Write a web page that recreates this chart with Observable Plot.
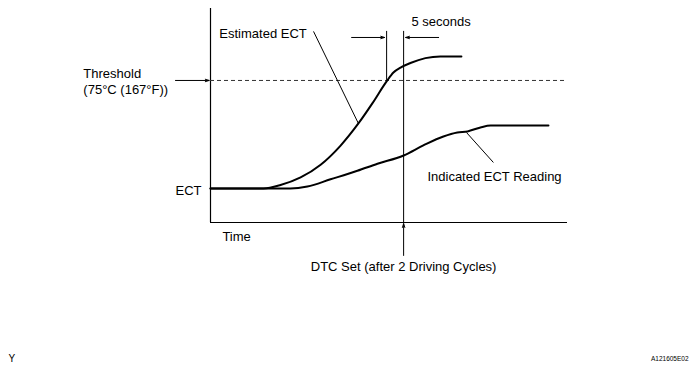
<!DOCTYPE html>
<html>
<head>
<meta charset="utf-8">
<script src="https://cdn.jsdelivr.net/npm/d3@7"></script>
<script src="https://cdn.jsdelivr.net/npm/@observablehq/plot@0.6"></script>
<style>
  html, body { margin: 0; padding: 0; background: #fff; }
  svg { display: block; }
</style>
</head>
<body>
<div id="chart"></div>
<script>
// Time (s) and ECT (°C) for the two curves
const estimatedTime = [0, 15.6, 20.6, 26.5, 32.4, 38.2, 43.5, 47.6, 51.8, 53.8, 55.9, 58.8, 63.2, 67.6, 73.8];
const estimatedECT  = [18, 18, 19.8, 23.8, 30.5, 40.5, 52.3, 62.9, 74.5, 79.2, 81.8, 84.2, 86.8, 87.7, 87.7];
const indicatedTime = [0, 23.5, 28.5, 35.3, 43.2, 49.1, 56.8, 62.6, 68.5, 72.6, 75.6, 79.4, 82.4, 99.4];
const indicatedECT  = [18, 18, 19.0, 22.8, 27.3, 31.0, 35.4, 40.7, 45.4, 47.5, 48.1, 50.2, 51.2, 51.2];

const threshold = 75;        // °C
const thresholdTime = 51.8;  // estimated ECT crosses threshold
const dtcTime = 56.8;        // DTC set, 5 s later
const timeMax = 105;
const ectMax = 113;

// Annotation texts and their anchor points (time, ECT)
const labelTexts   = ["Estimated ECT", "5 seconds", "Threshold", "(75°C (167°F))", "ECT", "Time", "Indicated ECT Reading"];
const labelTime    = [2.6, 59.1, -37.4, -37.4, -10.3, 3.5, 63.8];
const labelECT     = [99.8, 106.1, 78.7, 70.2, 16.9, -7.4, 24.3];
const dtcLabel = "DTC Set (after 2 Driving Cycles)";
const dtcLabelECT = -23.2;
const footLeft = "Y";
const footRight = "A121605E02";

// leader lines: [t1, v1, t2, v2]
const leaderT1 = [30.3, 75.3];
const leaderV1 = [100.9, 47.5];
const leaderT2 = [43.5, 83.2];
const leaderV2 = [52.3, 31.7];

const est = estimatedTime.map((t, i) => ({t, v: estimatedECT[i]}));
const ind = indicatedTime.map((t, i) => ({t, v: indicatedECT[i]}));
const labels = labelTexts.map((s, i) => ({s, t: labelTime[i], v: labelECT[i]}));
const leaders = leaderT1.map((t, i) => ({t1: t, v1: leaderV1[i], t2: leaderT2[i], v2: leaderV2[i]}));
const arrows = [
  {t1: -10.3, v1: threshold, t2: -0.4, v2: threshold},       // threshold pointer
  {t1: 41.5, v1: 97.7, t2: 51.2, v2: 97.7},                  // 5 s left
  {t1: 67.1, v1: 97.7, t2: 57.4, v2: 97.7},                  // 5 s right
  {t1: dtcTime, v1: -17.4, t2: dtcTime, v2: -0.6}            // DTC pointer
];

const chart = Plot.plot({
  width: 693,
  height: 373,
  marginLeft: 210,
  marginRight: 126,
  marginTop: 8,
  marginBottom: 151,
  x: {domain: [0, timeMax], axis: null},
  y: {domain: [0, ectMax], axis: null},
  style: {fontFamily: "'Liberation Sans', Arial, sans-serif", fontSize: "13px", background: "#fff", color: "#000"},
  marks: [
    // axes
    Plot.ruleX([0], {y1: 0, y2: ectMax, stroke: "#000", strokeWidth: 1.2}),
    Plot.ruleY([0], {x1: 0, x2: timeMax, stroke: "#000", strokeWidth: 1.2}),
    // threshold
    Plot.ruleY([threshold], {x1: 0, x2: timeMax, stroke: "#333", strokeWidth: 1, strokeDasharray: "4,3"}),
    // vertical markers
    Plot.ruleX([thresholdTime], {y1: threshold, y2: 100.9, stroke: "#000", strokeWidth: 1}),
    Plot.ruleX([dtcTime], {y1: 0, y2: 100.9, stroke: "#000", strokeWidth: 1}),
    // curves
    Plot.line(est, {x: "t", y: "v", curve: "monotone-x", stroke: "#000", strokeWidth: 2}),
    Plot.line(ind, {x: "t", y: "v", curve: "monotone-x", stroke: "#000", strokeWidth: 2}),
    // leaders
    Plot.link(leaders, {x1: "t1", y1: "v1", x2: "t2", y2: "v2", stroke: "#000", strokeWidth: 1}),
    // arrows
    Plot.arrow(arrows, {x1: "t1", y1: "v1", x2: "t2", y2: "v2", stroke: "#000", strokeWidth: 1, headLength: 6, headAngle: 35}),
    // labels
    Plot.text(labels, {x: "t", y: "v", text: "s", textAnchor: "start", fill: "#000", fontSize: 13}),
    Plot.text([dtcLabel], {x: dtcTime, y: dtcLabelECT, text: d => d, textAnchor: "middle", fill: "#000", fontSize: 13}),
    Plot.text([footLeft], {x: -59.4, y: -71.8, text: d => d, textAnchor: "start", fill: "#000", fontSize: 10}),
    Plot.text([footRight], {x: 140.6, y: -71.8, text: d => d, textAnchor: "end", fill: "#000", fontSize: 6.5})
  ]
});
document.getElementById("chart").appendChild(chart);
</script>
</body>
</html>
